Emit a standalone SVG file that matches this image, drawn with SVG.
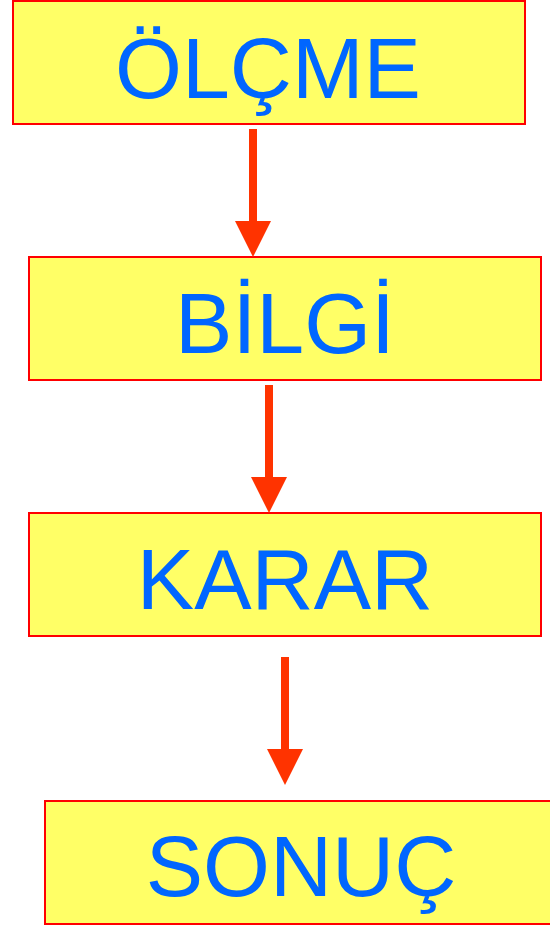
<svg xmlns="http://www.w3.org/2000/svg" width="550" height="926" viewBox="0 0 550 926">
  <style>
    .box { fill: #FFFF66; stroke: #FF0000; stroke-width: 2; }
    .label { font-family: "Liberation Sans", Arial, sans-serif; font-size: 86px; fill: #0066FF; text-anchor: middle; }
    .shaft { stroke: #FF3300; stroke-width: 8; fill: none; }
    .head { fill: #FF3300; }
  </style>
  <rect width="550" height="926" fill="#FFFFFF"/>

  <g id="olcme">
    <rect class="box" x="13" y="1" width="512" height="123"/>
    <text class="label" x="268" y="98">ÖLÇME</text>
  </g>
  <g id="bilgi">
    <rect class="box" x="29" y="257" width="512" height="123"/>
    <text class="label" x="285" y="353">BİLGİ</text>
  </g>
  <g id="karar">
    <rect class="box" x="29" y="513" width="512" height="123"/>
    <text class="label" x="285" y="609">KARAR</text>
  </g>
  <g id="sonuc">
    <rect class="box" x="45" y="801" width="512" height="123"/>
    <text class="label" x="301" y="896">SONUÇ</text>
  </g>

  <g id="connectors">
    <line class="shaft" x1="253" y1="129" x2="253" y2="222"/>
    <polygon class="head" points="235,221 271,221 253,257"/>
    <line class="shaft" x1="269" y1="385" x2="269" y2="478"/>
    <polygon class="head" points="251,477 287,477 269,513"/>
    <line class="shaft" x1="285" y1="657" x2="285" y2="750"/>
    <polygon class="head" points="267,749 303,749 285,785"/>
  </g>
</svg>
